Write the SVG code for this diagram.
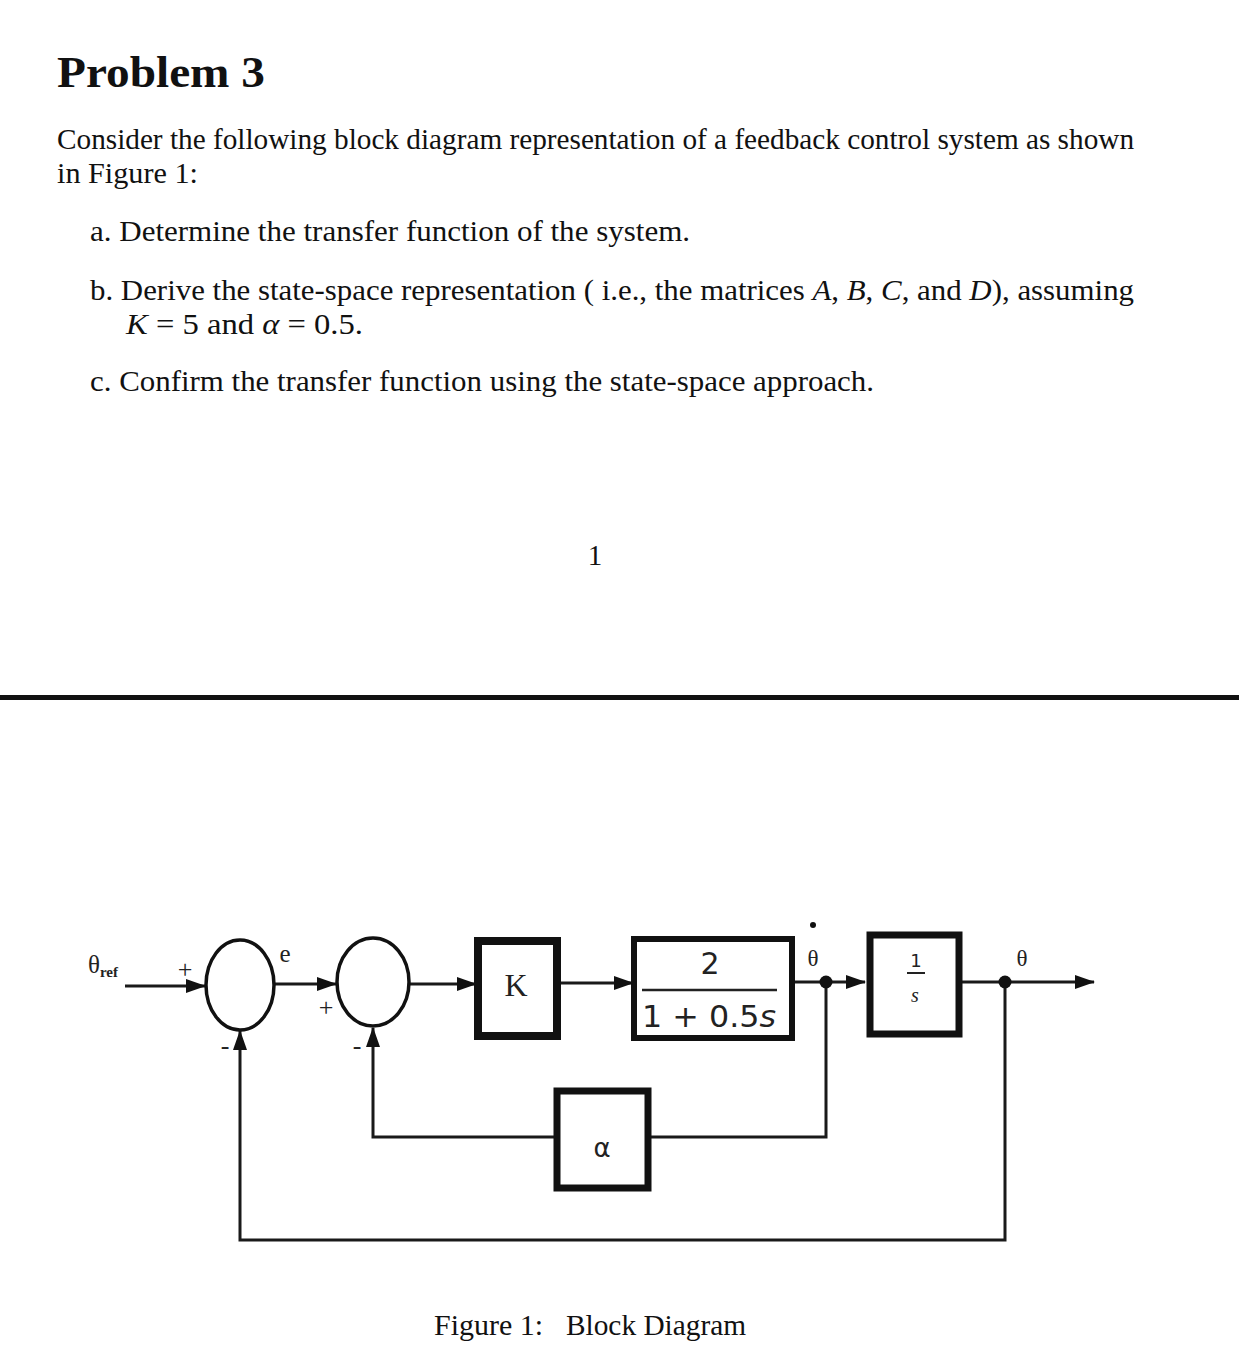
<svg xmlns="http://www.w3.org/2000/svg" width="1239" height="1358" viewBox="0 0 1239 1358">
<style>
.t{font-family:"Liberation Serif","Times New Roman",Tinos,serif;font-size:29px;fill:#111}
.i{font-style:italic}
.w{fill:none;stroke:#1a1a1a;stroke-width:3}
.bx{fill:#fff;stroke:#111}
.lb{font-family:"Liberation Serif","Times New Roman",serif;fill:#222}
.sn{font-family:"DejaVu Sans","Liberation Sans",sans-serif;fill:#222}
</style>
<defs>
<marker id="ah" markerWidth="20" markerHeight="14" refX="19" refY="7" orient="auto" markerUnits="userSpaceOnUse">
<path d="M0,0 L20,7 L0,14 Z" fill="#111"/>
</marker>
</defs>
<rect width="1239" height="1358" fill="#fff"/>
<g id="text">
<text x="57" y="87" font-family="Liberation Serif, serif" font-size="45" font-weight="bold" fill="#111" textLength="208" lengthAdjust="spacingAndGlyphs">Problem 3</text>
<text x="57" y="149" class="t" textLength="1077" lengthAdjust="spacingAndGlyphs">Consider the following block diagram representation of a feedback control system as shown</text>
<text x="57" y="183" class="t" textLength="141" lengthAdjust="spacingAndGlyphs">in Figure 1:</text>
<text x="90" y="241" class="t" textLength="600" lengthAdjust="spacingAndGlyphs">a. Determine the transfer function of the system.</text>
<text x="90" y="300" class="t" textLength="1044" lengthAdjust="spacingAndGlyphs">b. Derive the state-space representation ( i.e., the matrices <tspan class="i">A</tspan>, <tspan class="i">B</tspan>, <tspan class="i">C</tspan>, and <tspan class="i">D</tspan>), assuming</text>
<text x="126" y="334" class="t" textLength="237" lengthAdjust="spacingAndGlyphs"><tspan class="i">K</tspan> = 5 and <tspan class="i">α</tspan> = 0.5.</text>
<text x="90" y="391" class="t" textLength="784" lengthAdjust="spacingAndGlyphs">c. Confirm the transfer function using the state-space approach.</text>
<text x="595" y="565" class="t" text-anchor="middle">1</text>
<text x="434" y="1335" class="t" textLength="109" lengthAdjust="spacingAndGlyphs">Figure 1:</text>
<text x="566" y="1335" class="t" textLength="180" lengthAdjust="spacingAndGlyphs">Block Diagram</text>
</g>
<rect x="0" y="695" width="1239" height="5" fill="#111"/>
<g id="connectors">
<line class="w" x1="125" y1="986" x2="205" y2="986" marker-end="url(#ah)"/>
<line class="w" x1="275" y1="984" x2="336" y2="984" marker-end="url(#ah)"/>
<line class="w" x1="410" y1="984" x2="476" y2="984" marker-end="url(#ah)"/>
<line class="w" x1="561" y1="983" x2="633" y2="983" marker-end="url(#ah)"/>
<line class="w" x1="795" y1="982" x2="865" y2="982" marker-end="url(#ah)"/>
<line class="w" x1="962" y1="982" x2="1094" y2="982" marker-end="url(#ah)"/>
<polyline class="w" points="826,982 826,1137 651,1137"/>
<polyline class="w" points="555,1137 373,1137 373,1028" marker-end="url(#ah)"/>
<polyline class="w" points="1005,982 1005,1240 240,1240 240,1031" marker-end="url(#ah)"/>
<circle cx="826" cy="982" r="6.5" fill="#111"/>
<circle cx="1005" cy="982" r="6.5" fill="#111"/>
</g>
<g id="sum1">
<ellipse cx="240" cy="985" rx="34" ry="45" fill="#fff" stroke="#111" stroke-width="3.5"/>
<text x="185" y="978" class="lb" font-size="26" text-anchor="middle">+</text>
<text x="225" y="1054" class="lb" font-size="26" text-anchor="middle">-</text>
</g>
<g id="sum2">
<ellipse cx="373" cy="982" rx="36" ry="44" fill="#fff" stroke="#111" stroke-width="3.5"/>
<text x="326" y="1016" class="lb" font-size="26" text-anchor="middle">+</text>
<text x="357" y="1054" class="lb" font-size="26" text-anchor="middle">-</text>
</g>
<g id="labels">
<text x="88" y="973" class="lb" font-size="25">θ<tspan font-size="15" dy="4" font-weight="bold">ref</tspan></text>
<text x="285" y="962" class="lb" font-size="25" text-anchor="middle">e</text>
<text x="813" y="966" class="lb" font-size="23" text-anchor="middle">θ</text>
<circle cx="813" cy="925" r="3" fill="#111"/>
<text x="1022" y="966" class="lb" font-size="23" text-anchor="middle">θ</text>
</g>
<g id="K">
<rect x="478" y="941" width="79" height="95" class="bx" stroke-width="8"/>
<text x="516" y="996" class="lb" font-size="32" text-anchor="middle">K</text>
</g>
<g id="plant">
<rect x="634" y="939" width="158" height="99" class="bx" stroke-width="6"/>
<text x="710" y="974" class="sn" font-size="30" text-anchor="middle">2</text>
<line x1="642" y1="990" x2="777" y2="990" stroke="#222" stroke-width="2.5"/>
<text x="709" y="1027" class="sn" font-size="30" text-anchor="middle" textLength="134" lengthAdjust="spacingAndGlyphs">1 + 0.5<tspan font-style="italic">s</tspan></text>
</g>
<g id="integrator">
<rect x="870" y="935" width="89" height="99" class="bx" stroke-width="7"/>
<text x="916" y="967" class="sn" font-size="18" text-anchor="middle">1</text>
<line x1="907" y1="973" x2="925" y2="973" stroke="#222" stroke-width="2"/>
<text x="915" y="1002" class="lb" font-size="20" font-style="italic" text-anchor="middle">s</text>
</g>
<g id="alpha">
<rect x="557" y="1091" width="91" height="97" class="bx" stroke-width="7"/>
<text x="602" y="1157" class="sn" font-size="26" text-anchor="middle">α</text>
</g>
</svg>
